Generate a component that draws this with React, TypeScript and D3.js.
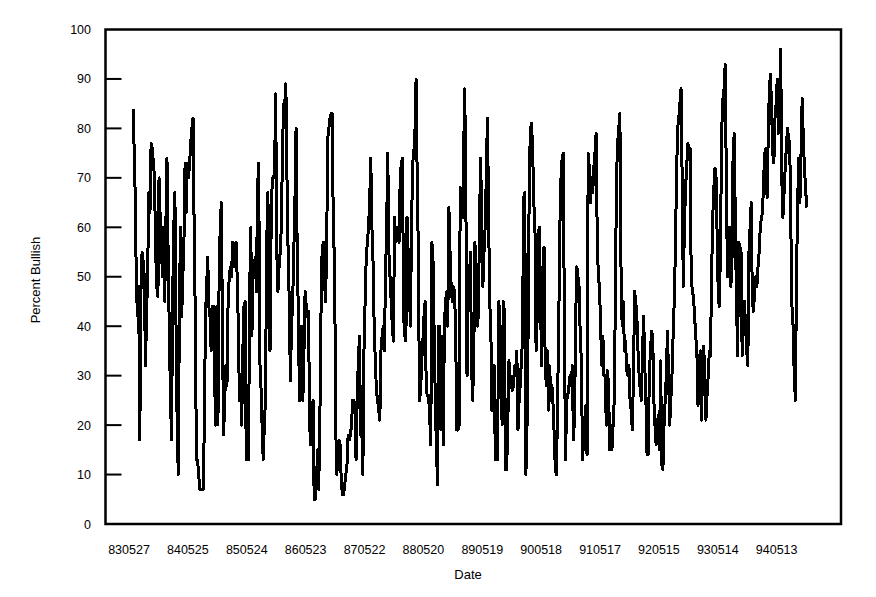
import * as d3 from "d3";

// Weekly percent-bullish readings, one array per year (starting 830527)
const y1983 = [84,76,66,48,42,48,17,47,55,53,50,32,42,52,67,63,77,76,73,70,55,48,46,70,62,57,50,60,45,60,74,55,40,27,17,45,60,67,40,20,10,45,60,42,50,57,73,63,73,70,73,77];
const y1984 = [80,82,60,42,13,13,10,7,7,7,7,20,42,48,54,44,42,35,44,44,30,20,44,20,48,60,65,40,18,25,32,28,45,50,52,50,57,52,55,57,50,40,25,30,20,35,44,45,13,13,13,46];
const y1985 = [60,38,50,52,54,47,68,73,33,28,20,13,20,25,55,67,57,35,60,70,70,71,87,55,47,52,55,60,75,85,85,89,70,55,45,29,40,45,55,65,80,55,43,25,35,40,25,35,47,44,42,43];
const y1986 = [20,16,20,25,5,5,8,15,7,20,42,55,57,50,45,55,78,80,82,83,83,57,55,20,10,14,17,16,8,6,6,8,10,12,18,17,18,20,25,25,24,13,25,33,38,18,20,10,35,45,54,57];
const y1987 = [60,65,74,60,53,40,33,27,25,23,21,35,38,40,35,50,60,75,55,50,45,40,37,62,57,60,58,57,70,73,74,42,38,37,62,55,48,40,60,73,75,79,90,70,55,25,27,33,37,42,45,27];
const y1988 = [26,26,22,16,57,53,38,25,15,8,40,40,19,38,16,40,45,47,40,64,55,48,45,48,47,38,19,19,20,68,62,62,75,88,65,30,52,48,55,32,25,35,57,48,40,42,60,74,62,48,55,60];
const y1989 = [70,82,64,45,40,23,25,32,13,13,13,45,42,30,20,45,43,11,11,20,33,30,28,27,28,32,30,35,19,25,28,33,37,66,67,10,20,40,70,80,81,75,65,60,35,42,59,60,43,32,50,56];
const y1990 = [33,28,35,23,32,25,28,24,18,11,10,25,40,60,70,74,75,40,13,25,26,28,30,28,32,17,22,42,52,50,48,38,33,13,17,16,24,14,75,72,65,70,67,72,75,79,58,50,48,40,32,38];
const y1991 = [30,30,20,31,28,15,20,15,20,25,45,70,77,80,83,52,40,45,35,37,31,30,32,25,23,19,30,47,45,42,35,30,27,25,35,42,32,25,14,14,30,35,39,38,25,20,16,20,22,15,33,12];
const y1992 = [11,20,25,30,39,30,20,25,30,38,45,55,70,80,82,85,88,70,48,60,68,72,77,76,76,50,47,46,42,38,35,24,32,35,21,30,36,30,21,26,30,35,34,50,62,68,72,70,57,45,44,60];
const y1993 = [80,86,88,93,70,50,55,60,48,53,75,79,60,45,34,57,56,55,34,40,45,40,35,32,55,60,65,45,43,47,50,48,52,55,60,62,63,70,75,76,66,78,88,91,84,75,73,82,85,90,79,85];
const y1994 = [96,70,62,67,72,76,80,78,77,60,44,40,30,25,50,65,74,65,75,86,78,72,68,64];

const dateLabels = ["830527","840525","850524","860523","870522","880520","890519","900518","910517","920515","930514","940513"];
const labelEvery = 52;
const yTicks = [0, 10, 20, 30, 40, 50, 60, 70, 80, 90, 100];

const values = [
  ...y1983, ...y1984, ...y1985, ...y1986, ...y1987, ...y1988,
  ...y1989, ...y1990, ...y1991, ...y1992, ...y1993, ...y1994,
];

const W = 876;
const H = 597;
const frame = { left: 105.5, right: 841, top: 29.5, bottom: 524 };
const font = "'Liberation Sans', Arial, sans-serif";

export default function App() {
  const x = d3.scaleLinear().domain([0, values.length - 1]).range([133, 806.7]);
  const y = d3.scaleLinear().domain([0, 100]).range([frame.bottom, frame.top]);

  const line = d3
    .line<number>()
    .x((_, i) => x(i))
    .y((d) => y(d));

  return (
    <svg
      width={W}
      height={H}
      style={{ position: "absolute", left: 0, top: 0, background: "#fff" }}
    >
      {/* plot frame */}
      <rect
        x={frame.left}
        y={frame.top}
        width={frame.right - frame.left}
        height={frame.bottom - frame.top}
        fill="none"
        stroke="#000"
        strokeWidth={2.5}
      />

      {/* y ticks drawn inward + labels */}
      {yTicks.map((t) => (
        <g key={`yt-${t}`}>
          {t > 0 && t < 100 && (
            <line
              x1={frame.left}
              x2={frame.left + 16}
              y1={y(t)}
              y2={y(t)}
              stroke="#000"
              strokeWidth={2}
            />
          )}
          <text
            x={91}
            y={y(t) + 4.5}
            textAnchor="end"
            fontSize={12.5}
            fontFamily={font}
            fill="#000"
          >
            {t}
          </text>
        </g>
      ))}

      {/* x labels every 52 weeks */}
      {dateLabels.map((lab, i) => (
        <text
          key={`xt-${lab}`}
          x={x(i * labelEvery) - 4}
          y={554}
          textAnchor="middle"
          fontSize={12.5}
          fontFamily={font}
          fill="#000"
        >
          {lab}
        </text>
      ))}

      {/* the series */}
      <path
        d={line(values) ?? ""}
        fill="none"
        stroke="#000"
        strokeWidth={3}
        strokeLinejoin="round"
        shapeRendering="crispEdges"
      />

      {/* axis titles */}
      <text x={468} y={579} textAnchor="middle" fontSize={13} fontFamily={font} fill="#000">
        Date
      </text>
      <text
        transform="translate(40,280) rotate(-90)"
        textAnchor="middle"
        fontSize={13}
        fontFamily={font}
        fill="#000"
      >
        Percent Bullish
      </text>
    </svg>
  );
}
